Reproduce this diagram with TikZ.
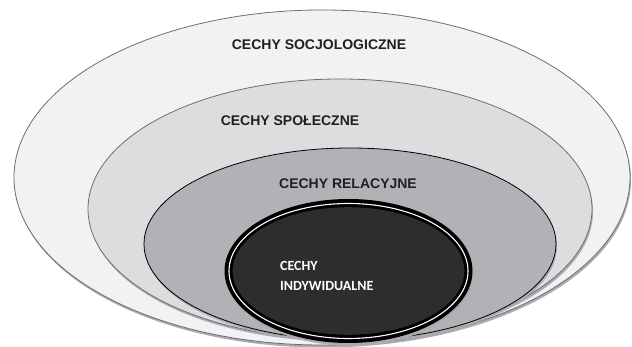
\documentclass[tikz,border=0pt]{standalone}
\usepackage{fontspec}
\setmainfont{Liberation Sans}
\newfontfamily\calibfont{Carlito}
\usetikzlibrary{shapes.geometric}
\definecolor{ringA}{HTML}{F1F2F4}
\definecolor{ringB}{HTML}{DCDDDF}
\definecolor{ringC}{HTML}{B1B2B5}
\definecolor{ringD}{HTML}{2E2C2D}
\definecolor{edgeg}{HTML}{6D6E71}
\definecolor{shadowg}{HTML}{ABACAF}
\definecolor{txt}{HTML}{231F20}
\begin{document}
\begin{tikzpicture}[x=1pt,y=1pt,
  layer/.style={ellipse,inner sep=0pt,outer sep=0pt},
  lbl/.style={font=\fontsize{14}{16}\selectfont\bfseries,text=txt,inner sep=0pt},
  ilbl/.style={font=\calibfont\bfseries\fontsize{14}{16}\selectfont,text=white,inner sep=0pt,anchor=west}]
\useasboundingbox (0,0) rectangle (632,-347);
\fill[white] (0,0) rectangle (632,-347);
% outer
\fill[shadowg] (323,-180) ellipse (308 and 167.5);
\node[layer,fill=ringA,draw=edgeg,line width=0.8pt,minimum width=616pt,minimum height=335pt] (soc) at (322,-177.5) {};
% second
\fill[shadowg] (341,-211.5) ellipse (252 and 130);
\node[layer,fill=ringB,draw=edgeg,line width=0.8pt,minimum width=504pt,minimum height=260pt] (spo) at (340,-209) {};
% third
\fill[shadowg] (351,-246.5) ellipse (206 and 96);
\node[layer,fill=ringC,draw=black,line width=0.8pt,minimum width=412pt,minimum height=192pt] (rel) at (350,-244) {};
% inner
\fill[shadowg] (349.5,-273.5) ellipse (124 and 72);
\node[layer,fill=black,minimum width=248pt,minimum height=144pt] (ind) at (348.5,-271) {};
\draw[white,line width=1.1pt] (ind.center) ellipse (119.5 and 67.5);
\fill[black] (ind.center) ellipse (118.3 and 66.3);
\fill[ringD] (ind.center) ellipse (115.8 and 63.8);
% labels
\node[lbl] (tsoc) at (319,-45) {CECHY SOCJOLOGICZNE};
\node[lbl] (tspo) at (290,-121) {CECHY SPOŁECZNE};
\node[lbl] (trel) at (348,-184) {CECHY RELACYJNE};
\node[ilbl] (tind1) at (280,-266) {CECHY};
\node[ilbl] (tind2) at (280,-286) {INDYWIDUALNE};
\end{tikzpicture}
\end{document}
